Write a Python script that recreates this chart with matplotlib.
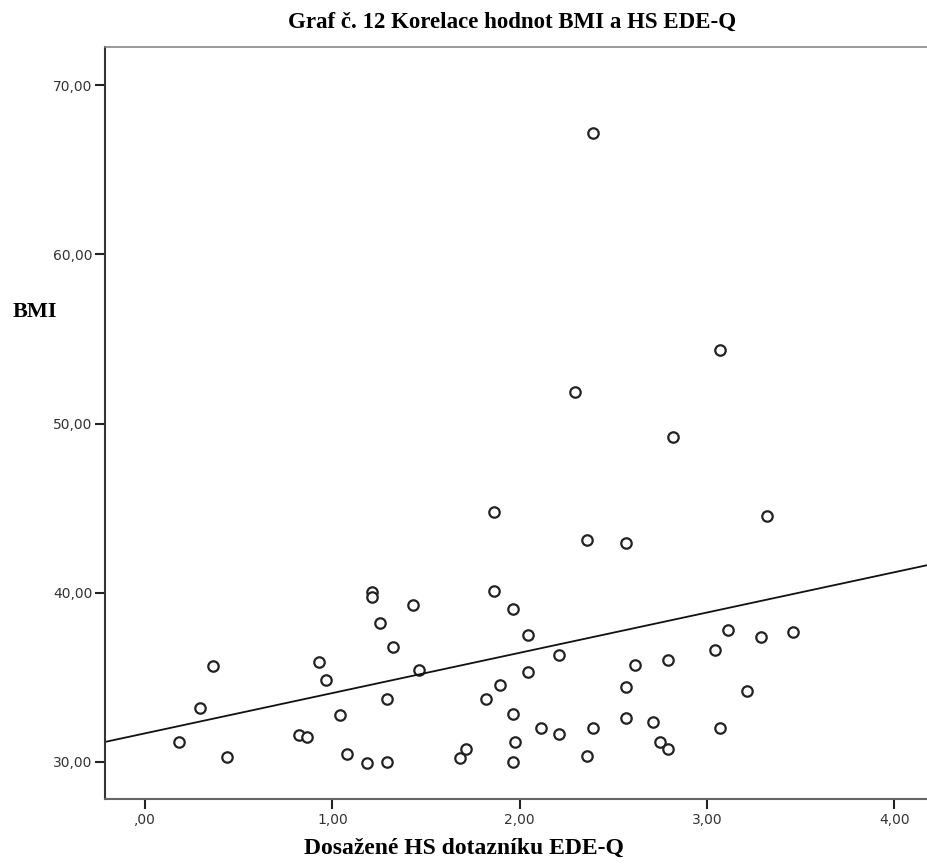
import matplotlib
matplotlib.use("Agg")
import matplotlib.pyplot as plt
import numpy as np


# values
hs_edeq = [0.183, 0.294, 0.365, 0.436, 0.824, 0.867, 0.929, 0.966, 1.041, 1.077,
           1.184, 1.214, 1.214, 1.255, 1.294, 1.294, 1.322, 1.433, 1.463, 1.682,
           1.714, 1.820, 1.865, 1.865, 1.895, 1.966, 1.966, 1.975, 1.966, 2.047,
           2.047, 2.113, 2.212, 2.212, 2.296, 2.362, 2.362, 2.394, 2.394, 2.568,
           2.568, 2.568, 2.616, 2.714, 2.750, 2.794, 2.794, 2.821, 3.043, 3.070,
           3.070, 3.114, 3.212, 3.289, 3.319, 3.461]
bmi = [31.20, 33.17, 35.67, 30.28, 31.58, 31.50, 35.89, 34.84, 32.78, 30.47,
       29.96, 40.06, 39.77, 38.19, 33.70, 30.02, 36.80, 39.28, 35.44, 30.25,
       30.75, 33.72, 44.75, 40.12, 34.55, 39.06, 32.82, 31.20, 30.02, 37.50,
       35.34, 31.99, 36.32, 31.65, 51.88, 43.12, 30.35, 67.15, 32.03, 42.92,
       34.45, 32.58, 35.73, 32.35, 31.20, 36.03, 30.75, 49.22, 36.62, 54.34,
       31.99, 37.80, 34.21, 37.37, 44.53, 37.66]

# regression line as drawn in the picture
line_intercept = 31.69
line_slope = 2.38

x_ticks = [0, 1, 2, 3, 4]
x_tick_labels = [",00", "1,00", "2,00", "3,00", "4,00"]
y_ticks = [30, 40, 50, 60, 70]
y_tick_labels = ["30,00", "40,00", "50,00", "60,00", "70,00"]

title_text = "Graf č. 12 Korelace hodnot BMI a HS EDE-Q"
x_label = "Dosažené HS dotazníku EDE-Q"
y_label = "BMI"


W, H = 928, 865
fig = plt.figure(figsize=(W / 100, H / 100), dpi=100)
ax = fig.add_axes([105 / W, 1 - 799 / H, 1 - 105 / W, (799 - 47) / H])

xlim = (-0.2136, 4.18)
ylim = (27.81, 72.25)
ax.set_xlim(*xlim)
ax.set_ylim(*ylim)

# points
ax.plot(hs_edeq, bmi, linestyle="none", marker="o", markersize=7.5,
        markerfacecolor="white", markeredgecolor="#222222", markeredgewidth=1.6)

# fit line
lx = np.array(xlim)
ax.plot(lx, line_intercept + line_slope * lx, color="#111111", linewidth=1.3)

# frame, SPSS look
ax.spines["right"].set_visible(False)
ax.spines["top"].set_color("#888888")
ax.spines["top"].set_linewidth(1.2)
ax.spines["left"].set_color("#333333")
ax.spines["left"].set_linewidth(1.5)
ax.spines["bottom"].set_color("#666666")
ax.spines["bottom"].set_linewidth(1.5)

ax.set_xticks(x_ticks)
ax.set_xticklabels(x_tick_labels)
ax.set_yticks(y_ticks)
ax.set_yticklabels(y_tick_labels)
ax.tick_params(axis="both", direction="out", length=7, width=1.5,
               color="#222222", labelsize=10, labelcolor="#333333")
ax.tick_params(axis="x", pad=3)
ax.tick_params(axis="y", pad=2)

serif = ["Liberation Serif", "DejaVu Serif"]
fig.text(512 / W, 1 - 22 / H, title_text, ha="center", va="center",
         fontsize=16.5, fontweight="bold", family=serif)
fig.text(464 / W, 1 - 848 / H, x_label, ha="center", va="center",
         fontsize=17, fontweight="bold", family=serif)
fig.text(35 / W, 1 - 312 / H, y_label, ha="center", va="center",
         fontsize=16, fontweight="bold", family=serif)

fig.savefig("out.png", dpi=100)
